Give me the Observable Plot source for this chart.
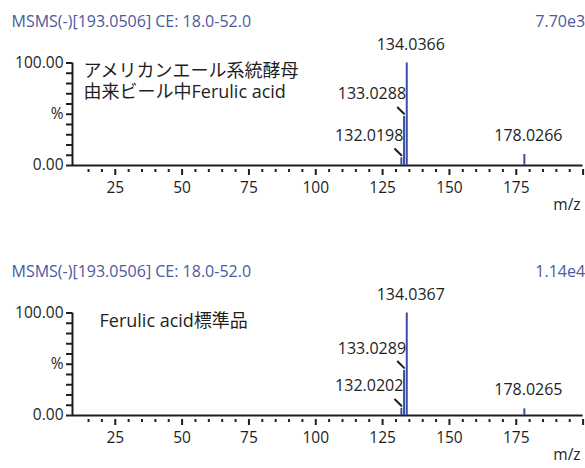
<!DOCTYPE html>
<html>
<head>
<meta charset="utf-8">
<script src="https://cdn.jsdelivr.net/npm/d3@7"></script>
<script src="https://cdn.jsdelivr.net/npm/@observablehq/plot@0.6"></script>
<style>
  html, body { margin: 0; padding: 0; background: #fff; }
  #chart svg { display: block; }
  #chart g[aria-label="spectrum title"] text { letter-spacing: 0.5px; }
</style>
</head>
<body>
<div id="chart"></div>
<script>
// Product-ion spectra of the [M-H]- precursor of ferulic acid
const precursorMz = 193.0506;
const collisionEnergy = [18.0, 52.0];

// beer brewed with an American-ale yeast strain
const beerNote = "アメリカンエール系統酵母\n由来ビール中Ferulic acid";
const beerBase = 7700;                       // counts at 100 %
const beerMz = [132.0198, 133.0288, 134.0366, 178.0266];
const beerPct = [7.5, 48, 100, 10.7];

// authentic standard
const standardNote = "Ferulic acid標準品";
const standardBase = 11400;
const standardMz = [132.0202, 133.0289, 134.0367, 178.0265];
const standardPct = [7, 44, 100, 6.5];

// axes
const mzDomain = [9, 200];
const mzLabelled = [25, 50, 75, 100, 125, 150, 175];
const mzMajor = d3.range(25, 201, 25);
const mzMinor = d3.range(15, 200, 5).filter(v => v % 25 !== 0);
const pctTicks = d3.range(0, 101, 10);
const pctLabels = new Map([[0, "0.00"], [50, "%"], [100, "100.00"]]);

const barColor = "#3a4ea3";
const titleColor = "#4a5a9e";
const inkColor = "#1e1e1e";
const font = "'Open Sans', 'Noto Sans CJK JP', sans-serif";

const title = `MSMS(-)[${precursorMz.toFixed(4)}] CE: ${collisionEnergy.map(v => v.toFixed(1)).join("-")}`;

function sci(v) {
  const e = Math.floor(Math.log10(v));
  return `${(v / 10 ** e).toFixed(2)}e${e}`;
}

// a plain stroke for the label leaders
const line = {draw(context, l) { context.moveTo(0, 0); context.lineTo(0, -l); }};

// short tick marks hanging below the baseline, with a small gap under it
function hangingTicks(values, size) {
  return Plot.axisX({ticks: values, tickSize: size, dy: 4, stroke: inkColor, strokeWidth: 2,
    tickFormat: () => "", label: null});
}

function spectrum({mz, pct, note, base, height, noteDx}) {
  const peaks = mz.map((m, i) => ({mz: m, pct: pct[i]}));
  const top = peaks.reduce((a, b) => (b.pct > a.pct ? b : a));
  // labels of peaks sitting next to the base peak are pulled aside with a leader
  const crowded = peaks.filter(p => p !== top && Math.abs(p.mz - top.mz) < 5);
  const open = peaks.filter(p => !crowded.includes(p));
  const noteLines = note.split("\n").length;

  return Plot.plot({
    width: 585,
    height,
    marginTop: 62.5,
    marginBottom: height - 165,
    marginLeft: 72,
    marginRight: 2.4,
    style: {fontFamily: font, fontSize: "15.5px", color: inkColor, background: "#fff"},
    x: {domain: mzDomain},
    y: {domain: [0, 100]},
    marks: [
      // y axis: ticks every 10 %, labelled at 0, 50 and 100
      Plot.axisY({ticks: pctTicks, tickSize: 6, tickPadding: 3, stroke: inkColor, strokeWidth: 2,
        tickFormat: d => pctLabels.get(d) ?? "", label: null}),
      // x axis labels and tick marks
      Plot.axisX({ticks: mzLabelled, tickSize: 0, tickPadding: 16, label: null}),
      hangingTicks(mzMajor, 6),
      hangingTicks(mzMinor, 3),
      Plot.ruleY([0], {stroke: inkColor, strokeWidth: 2}),
      Plot.ruleX([mzDomain[0]], {y1: 0, y2: 100, stroke: inkColor, strokeWidth: 2}),
      Plot.ruleX(peaks, {x: "mz", y1: 0, y2: "pct", stroke: barColor, strokeWidth: 2}),
      Plot.text(open, {x: "mz", y: "pct", text: d => d.mz.toFixed(4), dx: 4, dy: -18.5,
        fontSize: 16, fill: inkColor}),
      Plot.text(crowded, {x: "mz", y: "pct", text: d => d.mz.toFixed(4), textAnchor: "end",
        dx: 2, dy: -22, fontSize: 16, fill: inkColor}),
      Plot.vector(crowded, {x: "mz", y: "pct", length: 9, rotate: 135, anchor: "end", dy: -2.5,
        shape: line, stroke: inkColor, strokeWidth: 2}),
      Plot.text([title], {frameAnchor: "top-left", dx: -61, dy: -41, lineAnchor: "middle",
        fill: titleColor, fontSize: 16, ariaLabel: "spectrum title"}),
      Plot.text([sci(base)], {frameAnchor: "top-right", textAnchor: "end", dx: 2, dy: -41,
        lineAnchor: "middle", fill: titleColor, fontSize: 16}),
      Plot.text([note], {frameAnchor: "top-left", dx: noteDx, dy: 7.5 + (noteLines - 1) * 10.5,
        lineAnchor: "middle", lineHeight: 1.17, fontSize: 18, fill: inkColor}),
      Plot.text(["m/z"], {frameAnchor: "bottom-right", textAnchor: "end", dx: -2.5, dy: 40,
        lineAnchor: "middle", fontSize: 15.5, fill: inkColor})
    ]
  });
}

const chart = document.getElementById("chart");
chart.append(
  spectrum({mz: beerMz, pct: beerPct, note: beerNote, base: beerBase, height: 250, noteDx: 11}),
  spectrum({mz: standardMz, pct: standardPct, note: standardNote, base: standardBase, height: 218, noteDx: 27})
);
</script>
</body>
</html>
